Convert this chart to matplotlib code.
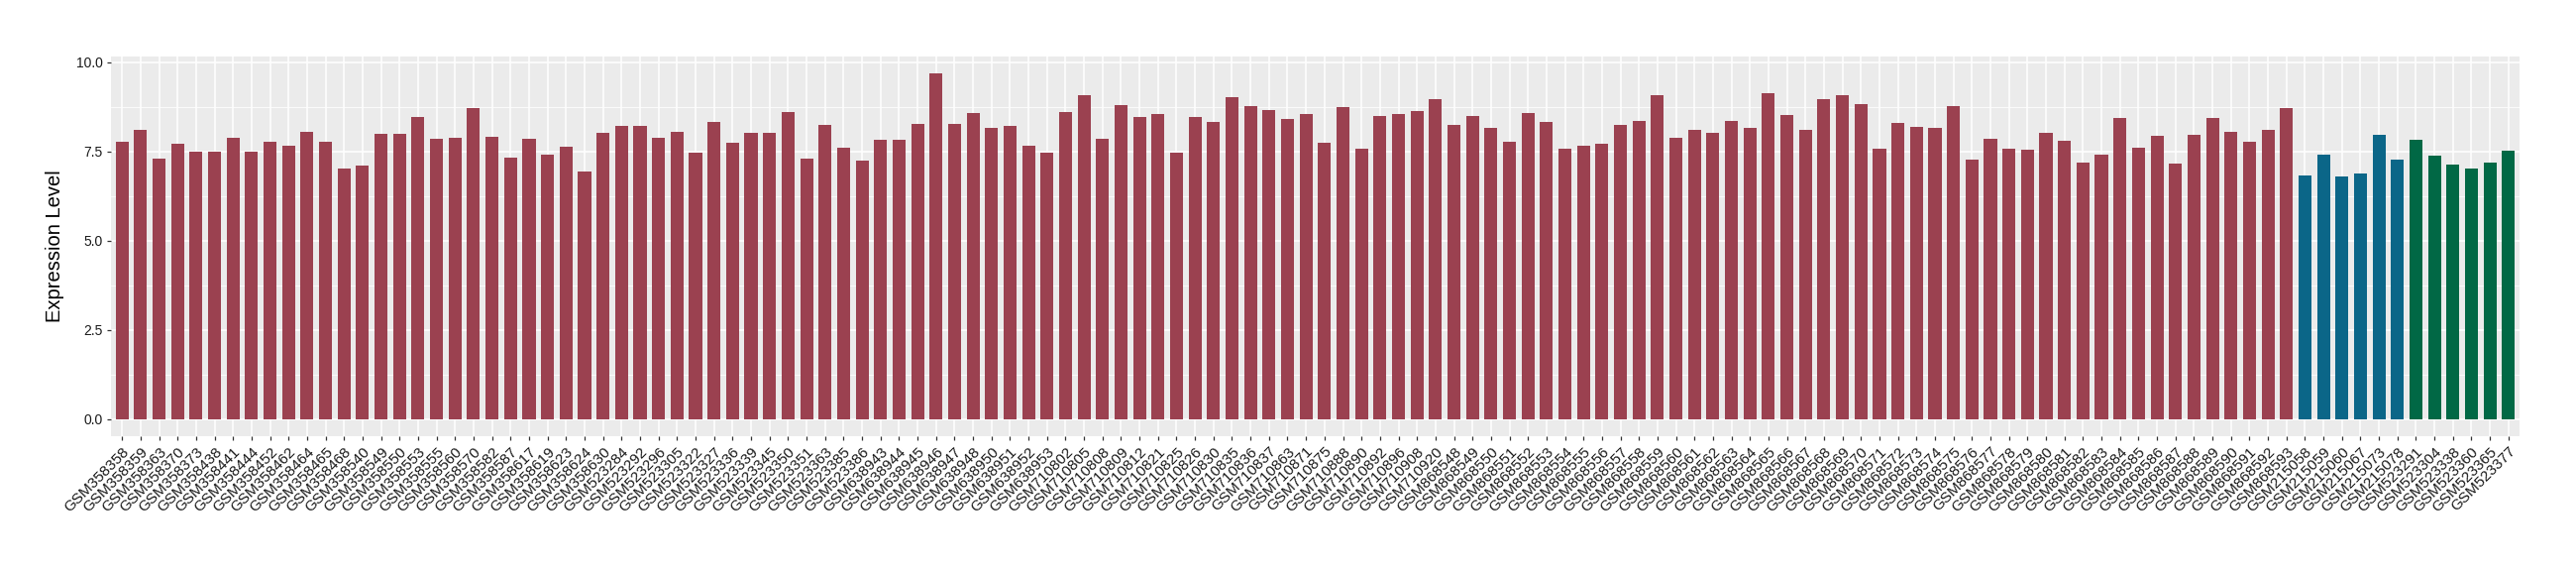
import matplotlib
matplotlib.use("Agg")
import matplotlib.pyplot as plt
from matplotlib.ticker import MultipleLocator, FormatStrFormatter

plt.rcParams['font.family'] = ['Liberation Sans', 'DejaVu Sans']

# sample ids per group
samples_red = [
    "GSM358358", "GSM358359", "GSM358363", "GSM358370", "GSM358373", "GSM358438",
    "GSM358441", "GSM358444", "GSM358452", "GSM358462", "GSM358464", "GSM358465",
    "GSM358468", "GSM358540", "GSM358549", "GSM358550", "GSM358553", "GSM358555",
    "GSM358560", "GSM358570", "GSM358582", "GSM358587", "GSM358617", "GSM358619",
    "GSM358623", "GSM358624", "GSM358630",
    "GSM523284", "GSM523292", "GSM523296", "GSM523305", "GSM523322", "GSM523327",
    "GSM523336", "GSM523339", "GSM523345", "GSM523350", "GSM523351", "GSM523363",
    "GSM523385", "GSM523386",
    "GSM638943", "GSM638944", "GSM638945", "GSM638946", "GSM638947", "GSM638948",
    "GSM638950", "GSM638951", "GSM638952", "GSM638953",
    "GSM710802", "GSM710805", "GSM710808", "GSM710809", "GSM710812", "GSM710821",
    "GSM710825", "GSM710826", "GSM710830", "GSM710835", "GSM710836", "GSM710837",
    "GSM710863", "GSM710871", "GSM710875", "GSM710888", "GSM710890", "GSM710892",
    "GSM710896", "GSM710908", "GSM710920",
    "GSM868548", "GSM868549", "GSM868550", "GSM868551", "GSM868552", "GSM868553",
    "GSM868554", "GSM868555", "GSM868556", "GSM868557", "GSM868558", "GSM868559",
    "GSM868560", "GSM868561", "GSM868562", "GSM868563", "GSM868564", "GSM868565",
    "GSM868566", "GSM868567", "GSM868568", "GSM868569", "GSM868570", "GSM868571",
    "GSM868572", "GSM868573", "GSM868574", "GSM868575", "GSM868576", "GSM868577",
    "GSM868578", "GSM868579", "GSM868580", "GSM868581", "GSM868582", "GSM868583",
    "GSM868584", "GSM868585", "GSM868586", "GSM868587", "GSM868588", "GSM868589",
    "GSM868590", "GSM868591", "GSM868592", "GSM868593",
]
samples_blue = ["GSM215058", "GSM215059", "GSM215060", "GSM215067", "GSM215073", "GSM215078"]
samples_green = ["GSM523291", "GSM523304", "GSM523338", "GSM523360", "GSM523365", "GSM523377"]

# expression values
values_red = [
    7.78, 8.09, 7.29, 7.70, 7.50, 7.50, 7.89, 7.50, 7.78, 7.65, 8.04, 7.76,
    7.03, 7.09, 7.98, 7.98, 8.45, 7.84, 7.87, 8.72, 7.91, 7.33, 7.86, 7.41,
    7.64, 6.92, 8.03,
    8.22, 8.22, 7.89, 8.05, 7.47, 8.33, 7.74, 8.02, 8.02, 8.60, 7.30, 8.24,
    7.60, 7.24,
    7.83, 7.83, 8.27, 9.68, 8.27, 8.57, 8.16, 8.21, 7.66, 7.46,
    8.60, 9.07, 7.86, 8.79, 8.47, 8.55, 7.46, 8.47, 8.33, 9.02, 8.77, 8.66,
    8.41, 8.55, 7.74, 8.75, 7.58, 8.49, 8.55, 8.63, 8.97,
    8.24, 8.49, 8.16, 7.77, 8.57, 8.33, 7.58, 7.66, 7.71, 8.24, 8.35, 9.07,
    7.89, 8.11, 8.02, 8.35, 8.16, 9.13, 8.52, 8.11, 8.97, 9.07, 8.82, 7.58,
    8.30, 8.18, 8.16, 8.77, 7.27, 7.86, 7.58, 7.55, 8.02, 7.80, 7.19, 7.41,
    8.42, 7.60, 7.93, 7.16, 7.96, 8.44, 8.05, 7.77, 8.11, 8.72,
]
values_blue = [6.82, 7.41, 6.79, 6.88, 7.96, 7.27]
values_green = [7.83, 7.38, 7.13, 7.02, 7.19, 7.52]

color_red = "#9B4150"
color_blue = "#0B6688"
color_green = "#016845"

samples = samples_red + samples_blue + samples_green
values = values_red + values_blue + values_green
colors = ([color_red] * len(samples_red) + [color_blue] * len(samples_blue)
          + [color_green] * len(samples_green))
x = list(range(len(samples)))

fig = plt.figure(figsize=(26, 5.8), dpi=100)
ax = fig.add_axes([112 / 2600, 1 - 440 / 580, (2543 - 112) / 2600, (440 - 56.7) / 580])
ax.set_facecolor("#EBEBEB")

ax.bar(x, values, width=0.7, color=colors, zorder=3)

# ggplot-like expansion
ymax = max(values)
ax.set_ylim(-0.05 * ymax, 1.05 * ymax)
ax.set_xlim(-0.6, len(samples) - 0.4)

ax.yaxis.set_major_locator(MultipleLocator(2.5))
ax.yaxis.set_minor_locator(MultipleLocator(1.25))
ax.yaxis.set_major_formatter(FormatStrFormatter("%.1f"))
ax.grid(which="major", color="white", linewidth=1.1, zorder=0)
ax.grid(which="minor", axis="y", color="white", linewidth=0.55, zorder=0)
ax.set_axisbelow(True)

for s in ax.spines.values():
    s.set_visible(False)

ax.set_xticks(x)
ax.set_xticklabels(samples, rotation=45, ha="right", va="top",
                   rotation_mode="anchor", fontsize=11, color="#1a1a1a")
ax.tick_params(axis="both", which="major", length=3, width=0.9, color="#333333", pad=3)
ax.tick_params(axis="y", which="minor", length=0)
ax.tick_params(axis="y", labelsize=10, labelcolor="#1a1a1a")

ax.set_ylabel("Expression Level", fontsize=14.5, color="black")
ax.yaxis.set_label_coords((65 - 112) / 2431, 0.5)

fig.savefig("out.png", dpi=100)
